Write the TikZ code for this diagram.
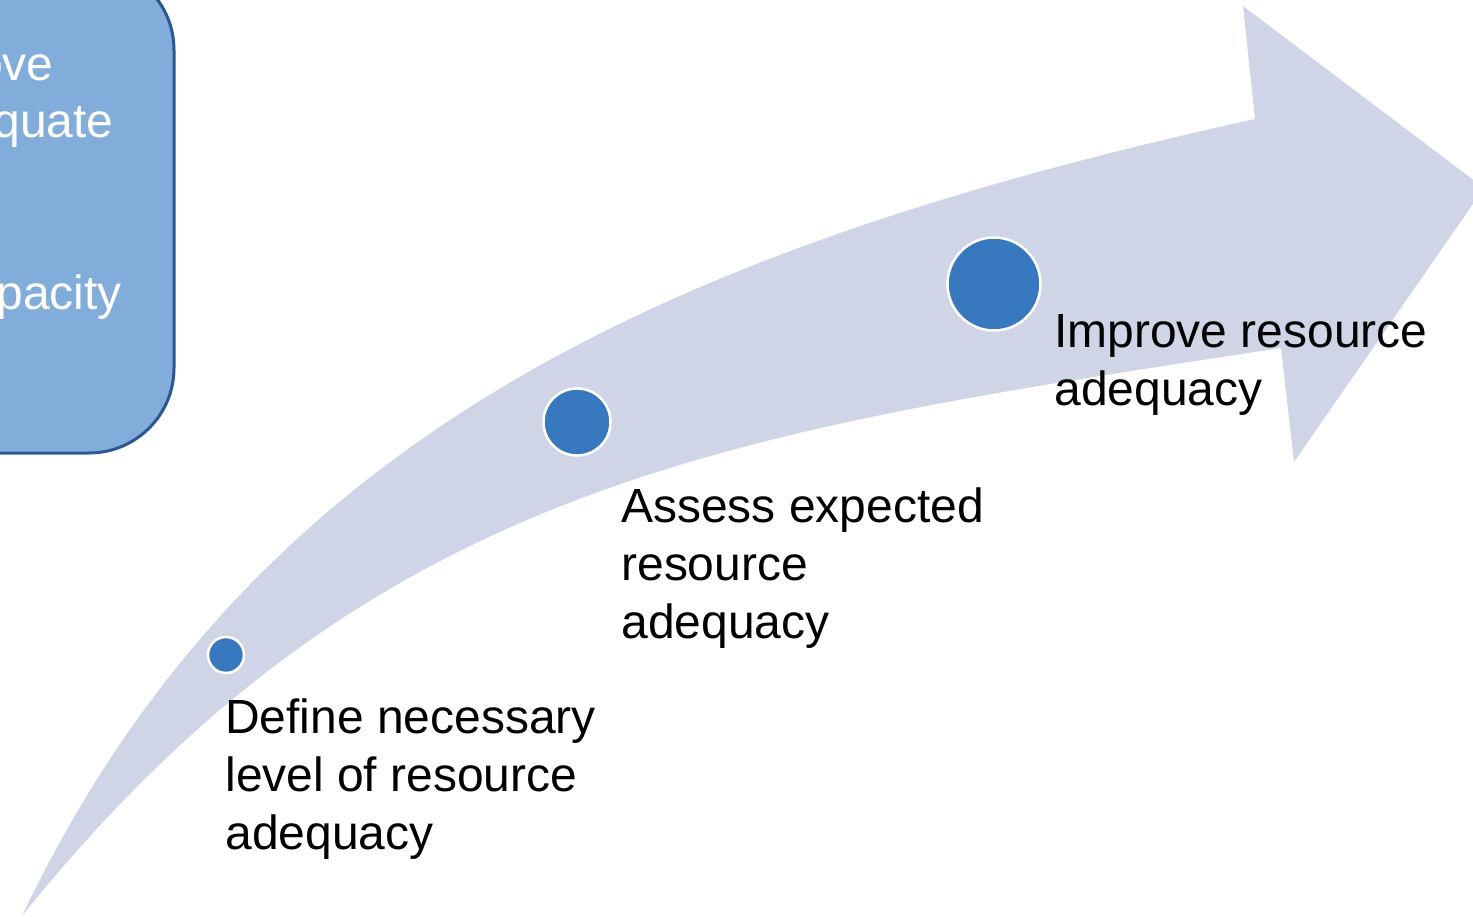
\documentclass[tikz,border=0pt]{standalone}
\usepackage{fontspec}
\setmainfont{Liberation Sans}
\definecolor{arrowfill}{RGB}{207,213,231}
\definecolor{dotfill}{RGB}{55,120,190}
\definecolor{boxfill}{RGB}{130,173,219}
\definecolor{boxline}{RGB}{44,88,145}
\tikzset{
  stepdot/.style={circle, fill=dotfill, draw=white, line width=0.05cm, inner sep=0pt},
  steplabel/.style={anchor=base west, align=left, inner sep=0pt, font=\fontsize{27.3}{33}\selectfont},
  boxtext/.style={anchor=base east, inner sep=0pt, text=white, font=\fontsize{27.3}{33}\selectfont}
}
\begin{document}
\begin{tikzpicture}[x=0.02cm, y=-0.02cm]
        % Frame
        \path[use as bounding box, clip] (0,0) rectangle (1473,916);
        % Box on the left, mostly cut off
        \draw[fill=boxfill, draw=boxline, line width=0.06cm, rounded corners=1.7cm] (-400,-35) rectangle (174,453);
        \node[boxtext] (boxA) at (54,80) {ove};
        \node[boxtext] (boxB) at (114,137) {quate};
        \node[boxtext] (boxC) at (122,309) {pacity};
        % Curved arrow
        \fill[arrowfill] (22,916) .. controls (247,443.5) and (655,251) .. (1255,119)
            -- (1243,6) -- (1484,188) -- (1294,462) -- (1281,348)
            .. controls (731,432) and (372,480) .. (22,916) -- cycle;
        % Steps
        \node[stepdot, minimum size=0.72cm] (dotA) at (226,655) {};
        \node[stepdot, minimum size=1.34cm] (dotB) at (577,422) {};
        \node[stepdot, minimum size=1.86cm] (dotC) at (994,284) {};
        % Labels
        \node[steplabel] (labA) at (225,849) {Define necessary\\level of resource\\adequacy};
        \node[steplabel] (labB) at (621,638) {Assess expected\\resource\\adequacy};
        \node[steplabel] (labC) at (1054,405) {Improve resource\\adequacy};
    \end{tikzpicture}
\end{document}
